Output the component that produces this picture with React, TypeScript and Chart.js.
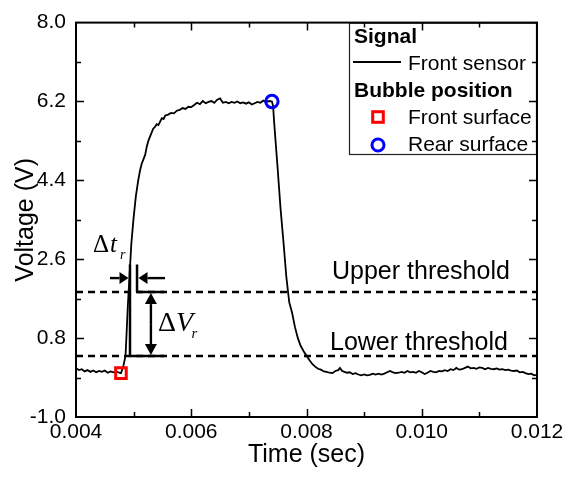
import { useEffect, useRef } from "react";
import { Chart, registerables } from "chart.js";

Chart.register(...registerables);

// ---------- data ----------
const times = [
  0.004, 0.00405, 0.0041, 0.00415, 0.0042, 0.00425, 0.0043, 0.00435, 0.0044, 0.00445,
  0.0045, 0.00455, 0.0046, 0.00465, 0.0047, 0.00475, 0.00478,
  0.00482, 0.00486, 0.0049, 0.00493, 0.00496, 0.005, 0.00504, 0.00508, 0.00511, 0.00514,
  0.00517, 0.0052, 0.00523, 0.00526, 0.0053, 0.00534, 0.00537, 0.0054, 0.00543, 0.00546,
  0.00549, 0.00552, 0.00555, 0.0056, 0.00565, 0.0057, 0.00575, 0.0058, 0.00585, 0.0059,
  0.00595, 0.006, 0.00605, 0.0061, 0.00615, 0.0062, 0.00625, 0.0063, 0.00635, 0.0064,
  0.00645, 0.0065, 0.00655, 0.0066, 0.00665, 0.0067, 0.00675, 0.0068, 0.00685, 0.0069,
  0.00695, 0.007, 0.00705, 0.0071, 0.00715, 0.0072, 0.00725, 0.0073, 0.00735, 0.0074,
  0.00742, 0.00744, 0.0075, 0.00755, 0.0076, 0.00765, 0.0077, 0.00775, 0.0078, 0.00785,
  0.0079, 0.00795, 0.008, 0.00805, 0.0081, 0.00815, 0.0082, 0.00825, 0.0083, 0.00835,
  0.0084, 0.00845, 0.0085, 0.00855, 0.00858, 0.00862, 0.00866, 0.0087, 0.00875, 0.0088,
  0.00885, 0.0089, 0.00895, 0.009, 0.00905, 0.0091, 0.00915, 0.0092, 0.00925, 0.0093,
  0.00935, 0.0094, 0.00945, 0.0095, 0.00955, 0.0096, 0.00965, 0.0097, 0.00975, 0.0098,
  0.00985, 0.0099, 0.00995, 0.01, 0.01005, 0.0101, 0.01015, 0.0102, 0.01025, 0.0103,
  0.01035, 0.0104, 0.01045, 0.0105, 0.01055, 0.0106, 0.01065, 0.0107, 0.01075, 0.0108,
  0.01085, 0.0109, 0.01095, 0.011, 0.01105, 0.0111, 0.01115, 0.0112, 0.01125, 0.0113,
  0.01135, 0.0114, 0.01145, 0.0115, 0.01155, 0.0116, 0.01165, 0.0117, 0.01175, 0.0118,
  0.01185, 0.0119, 0.01195, 0.012,
];

const volts = [
  0.12, 0.07, 0.09, 0.04, 0.07, 0.03, 0.06, 0.02, 0.05, 0.03,
  0.06, 0.01, 0.04, 0.02, 0.04, 0.01, 0.0,
  0.15, 0.4, 1.55, 2.25, 2.95, 3.55, 4.05, 4.4, 4.62, 4.78,
  4.88, 4.98, 5.18, 5.32, 5.45, 5.58, 5.62, 5.68, 5.66, 5.74,
  5.82, 5.8, 5.88, 5.9, 5.94, 5.93, 5.99, 6.01, 6.05, 6.03,
  6.08, 6.07, 6.12, 6.17, 6.14, 6.21, 6.16, 6.19, 6.21, 6.17,
  6.24, 6.27, 6.17, 6.19, 6.16, 6.19, 6.17, 6.2, 6.16, 6.18,
  6.15, 6.18, 6.13, 6.16, 6.19, 6.17, 6.22, 6.19, 6.21, 6.2,
  6.1, 5.7, 4.66, 3.75, 3.0, 2.2, 1.62, 1.38, 1.05, 0.8,
  0.62, 0.5, 0.4, 0.3, 0.21, 0.15, 0.1, 0.08, 0.04, 0.03,
  0.01, 0.0, 0.05, 0.07, 0.12, 0.05, 0.03, 0.01, 0.02, -0.02,
  0.0, -0.03, -0.05, -0.03, -0.05, -0.04, -0.01, -0.03, -0.01, -0.03,
  -0.01, 0.02, 0.05, 0.02, 0.0, 0.01, 0.03, 0.01, 0.05, 0.02,
  0.03, 0.01, 0.05, 0.02, -0.02, 0.01, 0.05, 0.03, 0.02, 0.05,
  0.04, 0.07, 0.05, 0.09, 0.07, 0.12, 0.08, 0.09, 0.12, 0.15,
  0.11, 0.12, 0.1, 0.13, 0.12, 0.09, 0.12, 0.1, 0.09, 0.11,
  0.08, 0.09, 0.07, 0.08, 0.06, 0.05, 0.06, 0.02, 0.03, 0.0,
  -0.02, -0.01, -0.05, -0.04,
];

const frontSurfaceT = [0.00478];
const frontSurfaceV = [0.0];
const rearSurfaceT = [0.0074];
const rearSurfaceV = [6.2];

const upperThreshold = 1.85;
const lowerThreshold = 0.39;

const xMin = 0.004;
const xMax = 0.012;
const yMin = -1.0;
const yMax = 8.0;
const xTicks = [0.004, 0.006, 0.008, 0.01, 0.012];
const xMinorTicks = [0.005, 0.007, 0.009, 0.011];
const yTicks = [-1.0, 0.8, 2.6, 4.4, 6.2, 8.0];
const yMinorTicks = [-0.1, 1.7, 3.5, 5.3, 7.1];

// annotation anchors (data units)
const dtLine1T = 0.004937;
const dtLine2T = 0.005059;
const dtTopV = 2.48;
const dtArrowV = 2.17;
const dtArrowLeftTailT = 0.00459;
const dtArrowRightTailT = 0.005544;
const dvSegEndT = 0.005527;
const dvArrowT = 0.0053;

const SANS = '"Liberation Sans", Arial, sans-serif';
const SERIF = '"Liberation Serif", "Times New Roman", serif';

function arrow(ctx: CanvasRenderingContext2D, x1: number, y1: number, x2: number, y2: number, headLen = 10, headHalf = 5.5) {
  const ang = Math.atan2(y2 - y1, x2 - x1);
  const bx = x2 - headLen * Math.cos(ang);
  const by = y2 - headLen * Math.sin(ang);
  ctx.beginPath();
  ctx.moveTo(x1, y1);
  ctx.lineTo(bx, by);
  ctx.stroke();
  ctx.beginPath();
  ctx.moveTo(x2, y2);
  ctx.lineTo(bx + headHalf * Math.sin(ang), by - headHalf * Math.cos(ang));
  ctx.lineTo(bx - headHalf * Math.sin(ang), by + headHalf * Math.cos(ang));
  ctx.closePath();
  ctx.fill();
}

const decorPlugin = {
  id: "decor",
  afterDraw(chart: any) {
    const ctx: CanvasRenderingContext2D = chart.ctx;
    const { left, right, top, bottom } = chart.chartArea;
    const xs = chart.scales.x;
    const ys = chart.scales.y;
    const X = (v: number) => xs.getPixelForValue(v);
    const Y = (v: number) => ys.getPixelForValue(v);
    ctx.save();

    // legend box
    const lx = 349, ly = top, lw = right - 349, lh = 155 - top;
    ctx.fillStyle = "#fff";
    ctx.fillRect(lx, ly, lw, lh);
    ctx.strokeStyle = "#222";
    ctx.lineWidth = 1.2;
    ctx.strokeRect(lx + 0.5, ly + 0.5, lw - 1, lh - 1);
    ctx.fillStyle = "#000";
    ctx.textAlign = "left";
    ctx.textBaseline = "alphabetic";
    ctx.font = `bold 21px ${SANS}`;
    ctx.fillText("Signal", 354, 43);
    ctx.fillText("Bubble position", 354, 97);
    ctx.font = `21px ${SANS}`;
    ctx.fillText("Front sensor", 408, 70);
    ctx.fillText("Front surface", 408, 124);
    ctx.fillText("Rear surface", 408, 151);
    ctx.strokeStyle = "#000";
    ctx.lineWidth = 1.8;
    ctx.beginPath();
    ctx.moveTo(353, 62);
    ctx.lineTo(401, 62);
    ctx.stroke();
    ctx.lineWidth = 3;
    ctx.strokeStyle = "#ff0000";
    ctx.strokeRect(378 - 5.3, 117 - 5.3, 10.6, 10.6);
    ctx.strokeStyle = "#0000ff";
    ctx.beginPath();
    ctx.arc(378, 145, 6, 0, Math.PI * 2);
    ctx.stroke();

    // frame
    ctx.strokeStyle = "#000";
    ctx.lineWidth = 2;
    ctx.strokeRect(left, top, right - left, bottom - top);

    // inward ticks
    ctx.lineWidth = 1.5;
    const drawX = (vals: number[], len: number) => {
      vals.forEach((v) => {
        const px = Math.round(X(v)) + 0.5;
        ctx.beginPath();
        ctx.moveTo(px, bottom);
        ctx.lineTo(px, bottom - len);
        ctx.moveTo(px, top);
        ctx.lineTo(px, top + len);
        ctx.stroke();
      });
    };
    const drawY = (vals: number[], len: number) => {
      vals.forEach((v) => {
        const py = Math.round(Y(v)) + 0.5;
        ctx.beginPath();
        ctx.moveTo(left, py);
        ctx.lineTo(left + len, py);
        ctx.moveTo(right, py);
        ctx.lineTo(right - len, py);
        ctx.stroke();
      });
    };
    drawX(xTicks.slice(1, -1), 8);
    drawX(xMinorTicks, 5);
    drawY(yTicks.slice(1, -1), 8);
    drawY(yMinorTicks, 5);

    // axis titles
    ctx.fillStyle = "#000";
    ctx.font = `25px ${SANS}`;
    ctx.textAlign = "center";
    ctx.textBaseline = "alphabetic";
    ctx.fillText("Time (sec)", (left + right) / 2, 462);
    ctx.save();
    ctx.translate(33, (top + bottom) / 2);
    ctx.rotate(-Math.PI / 2);
    ctx.fillText("Voltage (V)", 0, 0);
    ctx.restore();

    // threshold labels
    ctx.textAlign = "left";
    ctx.fillText("Upper threshold", 332, Y(upperThreshold) - 13);
    ctx.fillText("Lower threshold", 330, Y(lowerThreshold) - 6);

    // delta annotations
    ctx.strokeStyle = "#000";
    ctx.fillStyle = "#000";
    ctx.lineWidth = 2.5;
    const x1 = X(dtLine1T), x2 = X(dtLine2T), xe = X(dvSegEndT);
    const yTop = Y(dtTopV), yU = Y(upperThreshold), yL = Y(lowerThreshold);
    ctx.beginPath();
    ctx.moveTo(x1, yTop);
    ctx.lineTo(x1, yL);
    ctx.moveTo(x2, yTop);
    ctx.lineTo(x2, yU);
    ctx.moveTo(x2, yU);
    ctx.lineTo(xe, yU);
    ctx.moveTo(x1, yL);
    ctx.lineTo(xe, yL);
    ctx.stroke();
    const ya = Y(dtArrowV);
    ctx.lineWidth = 2.4;
    arrow(ctx, X(dtArrowLeftTailT), ya, x1 - 1.5, ya, 9, 6);
    arrow(ctx, X(dtArrowRightTailT), ya, x2 + 1.5, ya, 9, 6);
    const xv = X(dvArrowT);
    const ym = (yU + yL) / 2;
    arrow(ctx, xv, ym, xv, yU + 1, 11, 6);
    arrow(ctx, xv, ym, xv, yL - 1, 11, 6);

    // Δt_r
    ctx.textAlign = "left";
    ctx.font = `25px ${SERIF}`;
    ctx.fillText("\u0394", 93, 251.5);
    let w = ctx.measureText("\u0394").width;
    ctx.font = `italic 25px ${SERIF}`;
    ctx.fillText("t", 93 + w + 1, 251.5);
    ctx.font = `italic 14px ${SERIF}`;
    ctx.fillText("r", 120, 258.5);
    // ΔV_r
    ctx.font = `28px ${SERIF}`;
    ctx.fillText("\u0394", 158, 330.5);
    w = ctx.measureText("\u0394").width;
    ctx.font = `italic 28px ${SERIF}`;
    ctx.fillText("V", 158 + w, 330.5);
    ctx.font = `italic 15px ${SERIF}`;
    ctx.fillText("r", 191.5, 338);

    ctx.restore();
  },
};

export default function App() {
  const ref = useRef<HTMLCanvasElement | null>(null);
  useEffect(() => {
    if (!ref.current) return;
    const signal = times.map((t, i) => ({ x: t, y: volts[i] }));
    const front = frontSurfaceT.map((t, i) => ({ x: t, y: frontSurfaceV[i] }));
    const rear = rearSurfaceT.map((t, i) => ({ x: t, y: rearSurfaceV[i] }));
    const upper = [{ x: xMin, y: upperThreshold }, { x: xMax, y: upperThreshold }];
    const lower = [{ x: xMin, y: lowerThreshold }, { x: xMax, y: lowerThreshold }];
    const chart = new Chart(ref.current, {
      type: "line",
      data: {
        datasets: [
          {
            label: "Front surface",
            data: front,
            showLine: false,
            pointStyle: "rect",
            pointRadius: 7.5,
            pointBorderWidth: 3,
            pointBorderColor: "#ff0000",
            pointBackgroundColor: "rgba(0,0,0,0)",
          },
          {
            label: "Rear surface",
            data: rear,
            showLine: false,
            pointStyle: "circle",
            pointRadius: 6.2,
            pointBorderWidth: 3,
            pointBorderColor: "#0000ff",
            pointBackgroundColor: "rgba(0,0,0,0)",
          },
          {
            label: "Front sensor",
            data: signal,
            borderColor: "#000",
            borderWidth: 1.8,
            pointRadius: 0,
            tension: 0,
          },
          {
            label: "Upper threshold",
            data: upper,
            borderColor: "#000",
            borderWidth: 2.5,
            borderDash: [7, 5],
            pointRadius: 0,
          },
          {
            label: "Lower threshold",
            data: lower,
            borderColor: "#000",
            borderWidth: 2.5,
            borderDash: [7, 5],
            pointRadius: 0,
          },
        ],
      },
      options: {
        animation: false,
        responsive: false,
        devicePixelRatio: 1,
        layout: { padding: { top: 17, right: 39, left: 0, bottom: 0 } },
        plugins: { legend: { display: false }, tooltip: { enabled: false } },
        scales: {
          x: {
            type: "linear",
            min: xMin,
            max: xMax,
            grid: { display: false, drawTicks: false },
            border: { display: false },
            afterBuildTicks: (s: any) => {
              s.ticks = xTicks.map((v) => ({ value: v }));
            },
            afterFit: (s: any) => {
              s.height = 63;
            },
            ticks: {
              color: "#000",
              padding: 3,
              maxRotation: 0,
              autoSkip: false,
              font: { family: SANS, size: 21 },
              callback: (v: any) => Number(v).toFixed(3),
            },
          },
          y: {
            type: "linear",
            min: yMin,
            max: yMax,
            grid: { display: false, drawTicks: false },
            border: { display: false },
            afterBuildTicks: (s: any) => {
              s.ticks = yTicks.map((v) => ({ value: v }));
            },
            afterFit: (s: any) => {
              s.width = 76;
            },
            ticks: {
              color: "#000",
              padding: 10,
              autoSkip: false,
              font: { family: SANS, size: 21 },
              callback: (v: any) => Number(v).toFixed(1),
            },
          },
        },
      },
      plugins: [decorPlugin],
    });
    return () => chart.destroy();
  }, []);
  return (
    <div style={{ position: "absolute", left: 0, top: 0, width: 576, height: 480, background: "#fff" }}>
      <canvas ref={ref} width={576} height={480} style={{ width: 576, height: 480, display: "block" }} />
    </div>
  );
}
